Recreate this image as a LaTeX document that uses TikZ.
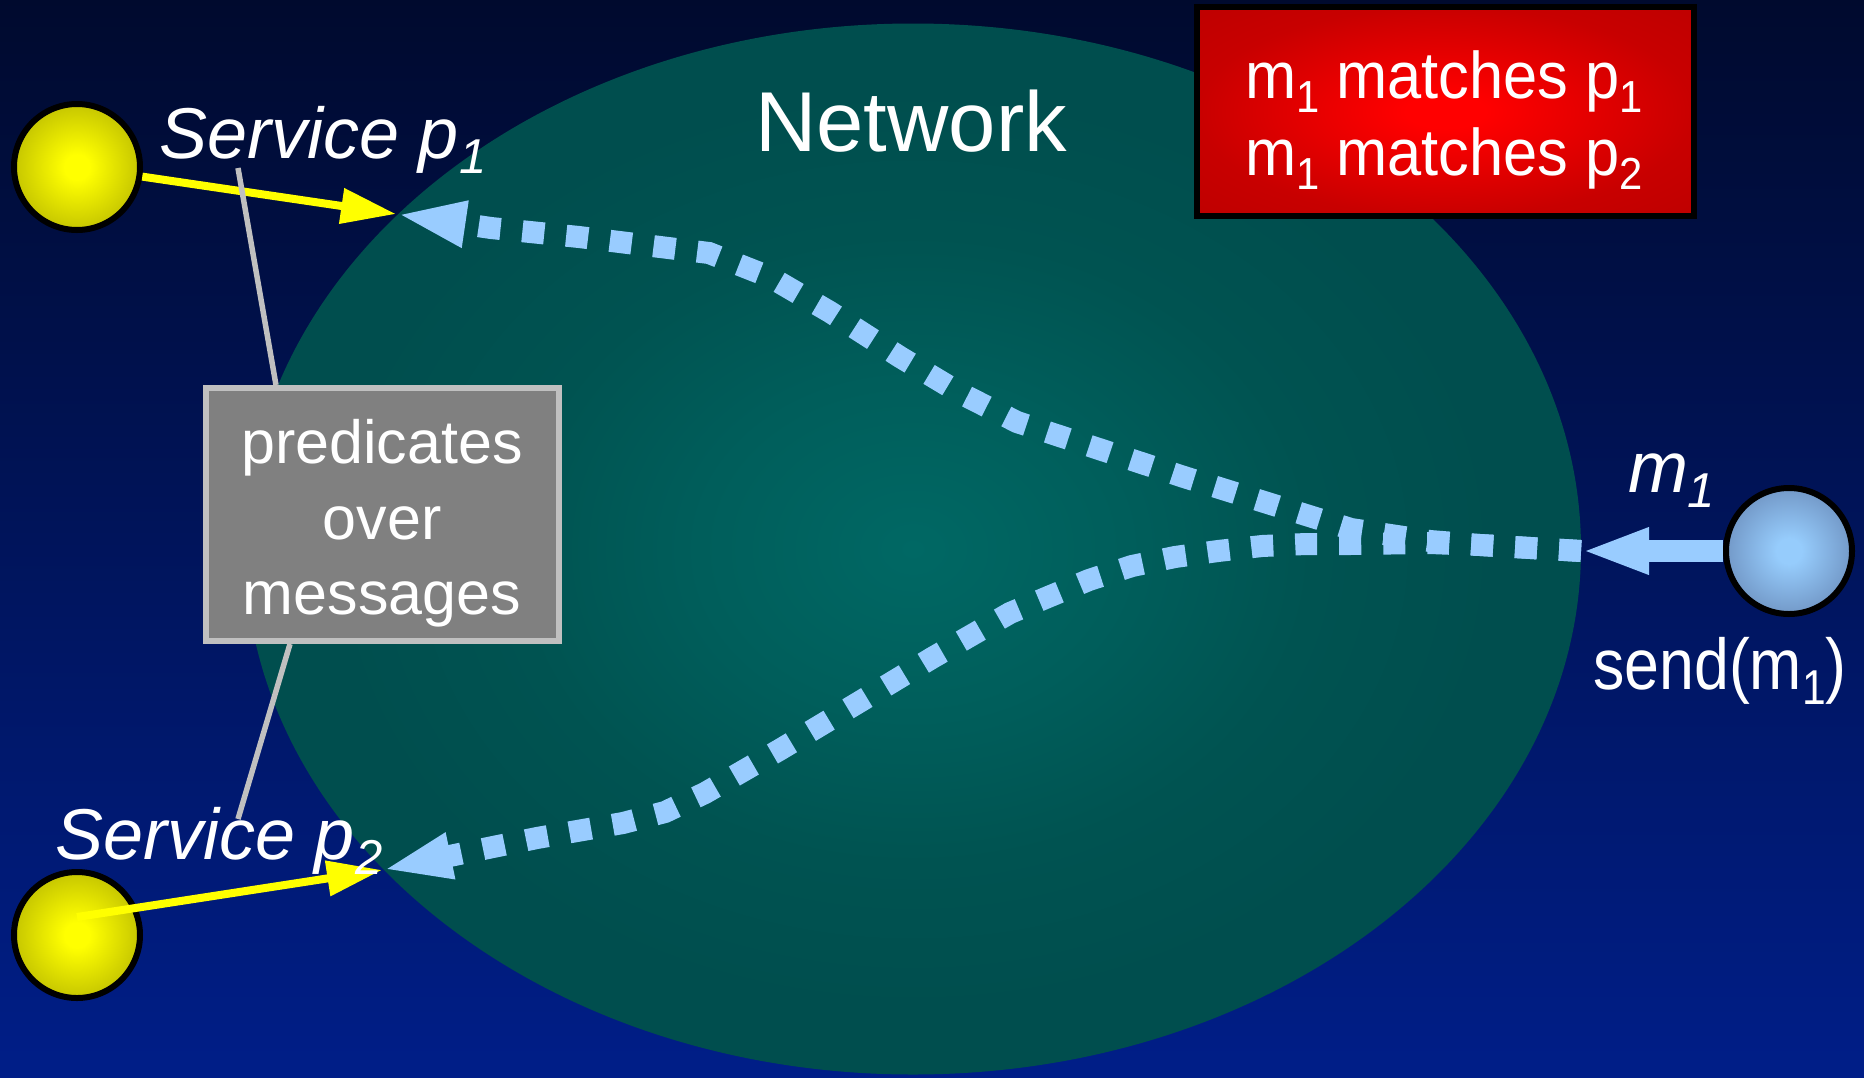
\documentclass[tikz,border=0pt]{standalone}
\usepackage{fontspec}
\setmainfont{Liberation Sans}
\usetikzlibrary{arrows.meta,shapes.geometric}
\definecolor{bgtop}{RGB}{0,10,46}
\definecolor{bgbot}{RGB}{0,30,136}
\definecolor{netA}{RGB}{0,104,100}
\definecolor{netB}{RGB}{0,94,91}
\definecolor{netC}{RGB}{0,83,81}
\definecolor{netD}{RGB}{0,78,78}
\definecolor{ycen}{RGB}{255,255,0}
\definecolor{yedge}{RGB}{198,198,0}
\definecolor{bcen}{RGB}{150,204,252}
\definecolor{bedge}{RGB}{115,153,200}
\definecolor{rcen}{RGB}{255,0,0}
\definecolor{redge}{RGB}{200,0,0}
\definecolor{redgeb}{RGB}{190,0,0}
\definecolor{msgblue}{RGB}{153,204,255}
\definecolor{boxgray}{RGB}{128,128,128}
\definecolor{linegray}{RGB}{192,192,192}
\pgfdeclareradialshading{netshade}{\pgfpoint{0bp}{0bp}}{color(0bp)=(netA); color(8bp)=(netB); color(15bp)=(netC); color(22bp)=(netD); color(50bp)=(netD)}
\pgfdeclareradialshading{yshade}{\pgfpoint{0bp}{0bp}}{color(0bp)=(ycen); color(5bp)=(ycen); color(25bp)=(yedge); color(50bp)=(yedge)}
\pgfdeclareradialshading{bshade}{\pgfpoint{0bp}{0bp}}{color(0bp)=(bcen); color(5bp)=(bcen); color(25bp)=(bedge); color(50bp)=(bedge)}
\pgfdeclareradialshading{rshade}{\pgfpoint{0bp}{0bp}}{color(0bp)=(rcen); color(4bp)=(rcen); color(25bp)=(redge); color(36bp)=(redgeb); color(50bp)=(redgeb)}
\newcommand\sbs[1]{\raisebox{-0.22em}{\scalebox{0.68}{#1}}}
\begin{document}
\begin{tikzpicture}[x=1pt,y=-1pt,
  txt/.style={text=white, inner sep=0pt, outer sep=0pt},
  bigfont/.style={font=\fontsize{85}{100}\selectfont},
  itfont/.style={font=\itshape\fontsize{72}{86}\selectfont},
  boxfont/.style={font=\fontsize{61}{75}\selectfont},
  redfont/.style={font=\fontsize{66}{77}\selectfont},
  sendfont/.style={font=\fontsize{72}{86}\selectfont},
  ball/.style={circle, draw=black, line width=6pt, minimum size=126pt, inner sep=0pt},
  yball/.style={ball, shade, shading=yshade},
  bball/.style={ball, shade, shading=bshade},
  yarrow/.style={draw=ycen, line width=8pt, -{Triangle[length=55pt,width=34pt]}},
  barrow/.style={draw=msgblue, line width=22pt, -{Triangle[length=68pt,width=42pt]}},
  dotarrow/.style={draw=msgblue, line width=22pt, dash pattern=on 22pt off 22pt, -{Triangle[length=70pt,width=42pt]}},
  pointer/.style={draw=linegray, line width=5.5pt},
]
\useasboundingbox (0,0) rectangle (1864,1077);
\shade[top color=bgtop, bottom color=bgbot] (0,0) rectangle (1864,1077);

% network
\node[ellipse, minimum width=1336pt, minimum height=1051pt, inner sep=0pt, shade, shading=netshade] (net) at (913,549) {};
\node[txt, bigfont, anchor=base] (nettitle) at (911,151) {Network};

% red box
\node[rectangle, draw=black, line width=6pt, minimum width=497pt, minimum height=209pt, inner sep=0pt, shade, shading=rshade] (matchbox) at (1445.5,111.5) {};
\node[txt, redfont, anchor=base] (match1) at (1444,98) {\scalebox{0.93}[1]{m\sbs{1} matches p\sbs{1}}};
\node[txt, redfont, anchor=base] (match2) at (1444,175) {\scalebox{0.93}[1]{m\sbs{1} matches p\sbs{2}}};

% arrow tips on the network border
\coordinate (tipA) at (396,214);
\coordinate (tipB) at (382,870);
\coordinate (tipC) at (1581,551);

% dotted message paths
\draw[dotarrow] (tipC) -- (1480,545) -- (1430,541) -- (1351,529) -- (1184,477) -- (1017,422) -- (960,393) -- (900,357) -- (830,312) -- (770,277) -- (709,253) -- (579,237) -- (491,228) -- (tipA);
\draw[dotarrow] (tipC) -- (1480,545) -- (1430,543) -- (1350,544) -- (1306,544) -- (1262,546) -- (1218,551) -- (1175,557) -- (1132,566) -- (1089,580) -- (1048,597) -- (1010,613) -- (932,658) -- (856,704) -- (781,749) -- (705,793) -- (665,812) -- (623,823) -- (537,838) -- (493,847) -- (tipB);

% services
\node[yball] (svc1ball) at (77,167) {};
\node[yball] (svc2ball) at (77,935) {};
\coordinate (svc2start) at (77,917);
\draw[yarrow] (svc1ball) -- (tipA);
\draw[yarrow] (svc2start) -- (tipB);

% predicates box
\node[rectangle, draw=linegray, fill=boxgray, line width=6pt, minimum width=353pt, minimum height=253pt, inner sep=0pt] (predbox) at (382.5,514.5) {};
\node[txt, boxfont, anchor=base] (pred1) at (382,463) {predicates};
\node[txt, boxfont, anchor=base] (pred2) at (382,539) {over};
\node[txt, boxfont, anchor=base] (pred3) at (382,614) {messages};
\coordinate (ptrA1) at (238,168);
\coordinate (ptrA2) at (276,385);
\coordinate (ptrB1) at (290,644);
\coordinate (ptrB2) at (238,819);
\draw[pointer] (ptrA1) -- (ptrA2);
\draw[pointer] (ptrB1) -- (ptrB2);

\node[txt, itfont, anchor=base west] (svc1lbl) at (159,158) {Service p\sbs{1}};
\node[txt, itfont, anchor=base west] (svc2lbl) at (55,859) {Service p\sbs{2}};

% sender
\node[bball] (sender) at (1789,551) {};
\draw[barrow] (sender) -- (tipC);
\node[txt, itfont, anchor=base west] (msglbl) at (1628,492) {m\sbs{1}};
\node[txt, sendfont, anchor=base] (sendlbl) at (1720,689) {\scalebox{0.87}[1]{send(m\sbs{1})}};
\end{tikzpicture}
\end{document}
